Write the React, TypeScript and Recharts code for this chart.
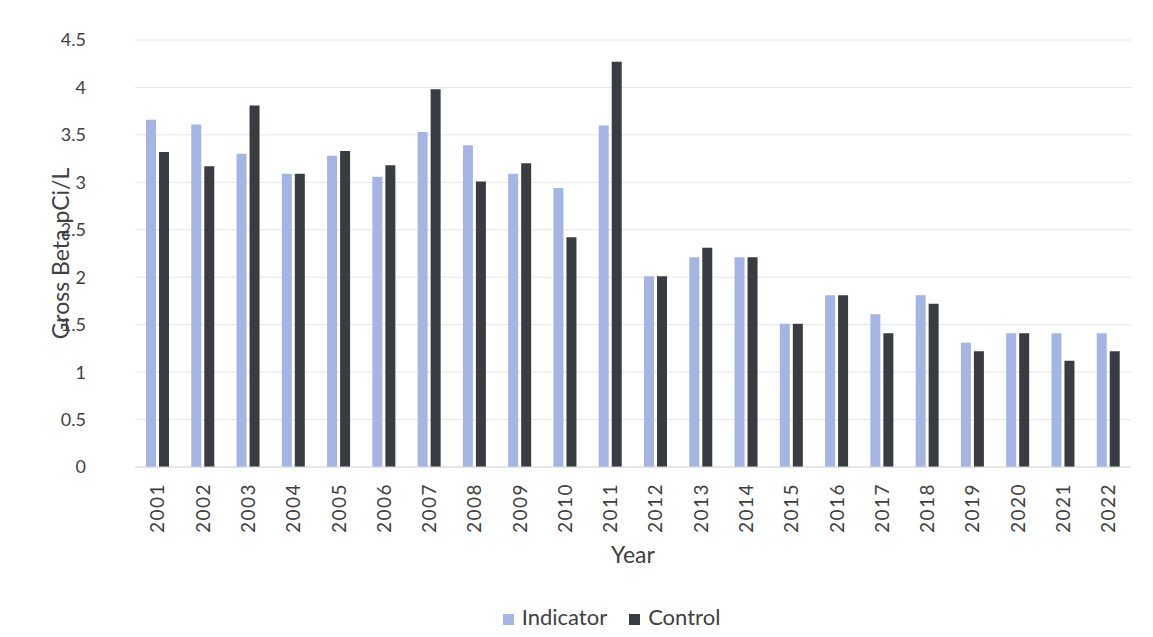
import { Bar, BarChart, CartesianGrid, Legend, XAxis, YAxis } from 'recharts';

const years = [
  '2001', '2002', '2003', '2004', '2005', '2006', '2007', '2008', '2009', '2010', '2011',
  '2012', '2013', '2014', '2015', '2016', '2017', '2018', '2019', '2020', '2021', '2022',
];
const indicator = [
  3.66, 3.61, 3.3, 3.09, 3.28, 3.06, 3.53, 3.39, 3.09, 2.94, 3.6,
  2.01, 2.21, 2.21, 1.51, 1.81, 1.61, 1.81, 1.31, 1.41, 1.41, 1.41,
];
const control = [
  3.32, 3.17, 3.81, 3.09, 3.33, 3.18, 3.98, 3.01, 3.2, 2.42, 4.27,
  2.01, 2.31, 2.21, 1.51, 1.81, 1.41, 1.72, 1.22, 1.41, 1.12, 1.22,
];
const yTicks = [0, 0.5, 1, 1.5, 2, 2.5, 3, 3.5, 4, 4.5];
const seriesOrder = ['Indicator', 'Control'];

const data = years.map((year, i) => ({ year, indicator: indicator[i], control: control[i] }));

const font = 'Lato, "Open Sans", sans-serif';
const textColor = '#404040';

const YearTick = ({ x, y, payload }: any) => (
  <text
    transform={`translate(${x},${y + 8}) rotate(-90)`}
    textAnchor="end"
    dy="0.36em"
    fontSize={19}
    letterSpacing={1.5}
    fill={textColor}
    fontFamily={font}
  >
    {payload.value}
  </text>
);

const XLabel = ({ viewBox }: any) => (
  <text x={viewBox.x + viewBox.width / 2} y={555} textAnchor="middle" dy="0.36em" fontSize={23} fill={textColor} fontFamily={font}>
    Year
  </text>
);

export default function App() {
  return (
    <div style={{ position: 'absolute', left: 0, top: 0, width: 1153, height: 637, background: '#fff' }}>
      <BarChart
        width={1153}
        height={637}
        data={data}
        margin={{ top: 40, right: 22, bottom: 0, left: 0 }}
        barSize={10}
        barGap={3}
      >
        <CartesianGrid vertical={false} stroke="#e4e4f0" />
        <XAxis
          dataKey="year"
          height={170}
          interval={0}
          tickLine={false}
          axisLine={{ stroke: '#d9d9d9' }}
          tick={<YearTick />}
          label={<XLabel />}
        />
        <YAxis
          width={135}
          domain={[0, 4.5]}
          ticks={yTicks}
          tickLine={false}
          axisLine={false}
          tickSize={0}
          tickMargin={49}
          tick={{ fontSize: 18, fill: textColor, fontFamily: font }}
          label={{
            value: 'Gross Beta pCi/L',
            angle: -90,
            position: 'center',
            dx: -7,
            style: { fontSize: 23, fill: textColor, fontFamily: font, textAnchor: 'middle' },
          }}
        />
        <Legend
          layout="horizontal"
          verticalAlign="middle"
          align="center"
          iconType="square"
          iconSize={11}
          itemSorter={(item: any) => seriesOrder.indexOf(item.value)}
          wrapperStyle={{ top: 603, left: 0, width: 1245, fontFamily: font, fontSize: 22 }}
          formatter={(value: string) => (
            <span style={{ color: textColor, marginLeft: 4, marginRight: 12 }}>{value}</span>
          )}
        />
        <Bar dataKey="indicator" name="Indicator" fill="#a4b5e3" isAnimationActive={false} />
        <Bar dataKey="control" name="Control" fill="#393d42" isAnimationActive={false} />
      </BarChart>
    </div>
  );
}
